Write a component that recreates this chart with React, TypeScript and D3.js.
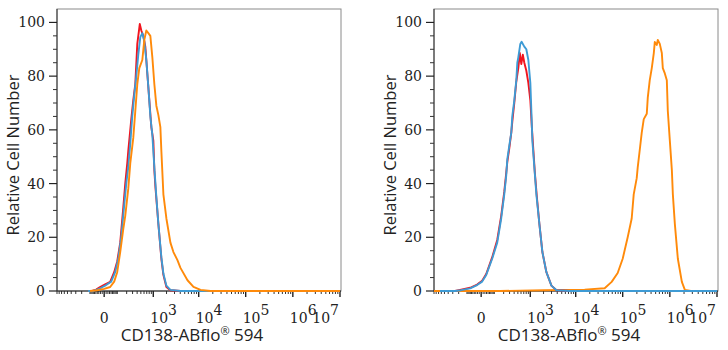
import React from 'react';
import * as d3 from 'd3';

// ---------- data ----------
const yTickValues = [0, 20, 40, 60, 80, 100];
const xMajorValues = [0, 1e3, 1e4, 1e5, 1e6, 1e7];
const xMajorExp = ['', '3', '4', '5', '6', '7'];
const xTitle = 'CD138-ABflo';
const yTitle = 'Relative Cell Number';

const leftRedX = [-119, -80, -48, -22, 5, 34, 63, 89, 119, 154, 180, 209, 224, 276, 314, 357, 404, 469, 513, 576, 646, 722, 807, 900, 1003, 1059, 1117, 1310, 1533, 1701, 1986, 2438, 4043, 1e7];
const leftRedY = [0, 0, 0.5, 1.5, 2.5, 3.4, 7, 11, 18, 31, 40, 47.6, 52, 64, 71, 77, 92, 99.4, 97, 95, 91, 81, 71, 61, 56, 45, 39, 25, 12, 6, 1.5, 0.3, 0, 0];

const leftBlueX = [-119, -71, -41, -16, 10, 41, 71, 99, 130, 166, 194, 224, 258, 294, 335, 380, 429, 484, 544, 610, 683, 764, 853, 951, 1059, 1178, 1310, 1533, 1701, 1986, 2438, 4043, 1e7];
const leftBlueY = [0, 0, 0.5, 1.2, 2.2, 3.5, 7, 12, 20, 32, 40, 46, 55, 65, 73, 80, 88, 94.5, 96, 93, 86, 76, 65, 58, 46, 35, 25, 12.5, 6.5, 2, 0.4, 0, 0];

const leftOrangeX = [-99, -41, 0, 34, 63, 89, 119, 154, 180, 224, 258, 314, 357, 404, 456, 544, 610, 683, 764, 853, 951, 1059, 1178, 1310, 1455, 1533, 1615, 1701, 1986, 2438, 2840, 3477, 4043, 5740, 7730, 10940, 17920, 1e7];
const leftOrangeY = [0, 0.3, 0.8, 1.5, 3.5, 7, 14.5, 23, 28, 38, 47.6, 57, 67, 77, 83, 86, 93.5, 97, 96, 95, 87, 77, 69, 65.5, 61, 52, 44, 36, 27, 18, 14.5, 11.5, 8.6, 4, 1.5, 0.4, 0, 0];

const rightBlueX = [-646, -258, -166, -71, -22, 5, 28, 71, 119, 166, 209, 240, 258, 294, 335, 357, 404, 456, 484, 513, 576, 620, 722, 807, 900, 1003, 1059, 1117, 1242, 1380, 1615, 1886, 2316, 2988, 3845, 7730, 1e7];
const rightBlueY = [0, 0, 0.3, 1, 2.2, 3.5, 6, 12, 18, 27, 36, 43, 49, 54, 59, 65, 71, 78.5, 85, 87, 92, 92.8, 91, 90, 86, 77.5, 67, 56, 46, 36, 25, 14.5, 7, 2, 0.3, 0, 0];

const rightRedX = [-646, -258, -180, -71, -22, 5, 28, 71, 119, 166, 209, 240, 258, 294, 335, 357, 404, 456, 513, 560, 610, 664, 722, 807, 900, 1003, 1087, 1178, 1275, 1417, 1615, 1886, 2316, 2988, 3845, 7730, 1e7];
const rightRedY = [0, 0, 0.4, 1.2, 2.4, 3.8, 6.3, 12.5, 19, 28, 37, 44, 48, 53, 59, 63, 70, 78, 83, 88.6, 84.5, 88, 85, 82, 77.5, 71, 61, 52.5, 44, 35, 25, 14.5, 7, 2, 0.3, 0, 0];

const rightOrangeX = [-900, 154, 2090, 15530, 41400, 58300, 78300, 100000, 127700, 155300, 171400, 198500, 208400, 230100, 253700, 279900, 324300, 340500, 375200, 414000, 457100, 479700, 528500, 555400, 612400, 676100, 709600, 783400, 863000, 906000, 1000000, 1104000, 1159000, 1277000, 1479000, 1799000, 2084000, 2798000, 1e7];
const rightOrangeY = [0, 0, 0.3, 0.5, 1, 3.4, 6.7, 12, 20, 27, 36, 42, 46, 52.5, 59, 64, 66, 72, 78.5, 83, 88.6, 92.7, 91.6, 93.5, 92, 88.6, 83, 81, 78.5, 67, 56, 45, 36, 25, 12, 3.4, 0.4, 0, 0];

const RED = '#f0141e';
const BLUE = '#3e9bd5';
const ORANGE = '#ff8a0a';

// ---------- layout ----------
const TOP = 9;
const BOTTOM = 291;
const W = 284;

type Series = { xs: number[]; ys: number[]; color: string };

function minorTicks(): number[] {
  const out: number[] = [];
  for (let m = 1; m <= 9; m++) {
    out.push(-m * 100, -m * 10, m * 10);
    if (m > 1) out.push(m * 100);
  }
  for (let e = 3; e <= 6; e++) {
    for (let m = 2; m <= 9; m++) out.push(m * Math.pow(10, e));
  }
  return out;
}

function Panel({ x0, series }: { x0: number; series: Series[] }) {
  const x = d3.scaleSymlog().constant(100).domain([-900, 1e7]).range([x0, x0 + W - 1]);
  const y = d3.scaleLinear().domain([0, 105]).range([BOTTOM, TOP]);
  const line = d3.line<[number, number]>().x(d => x(d[0])).y(d => y(d[1]));
  const yMinor = d3.range(0, 105, 5).filter(v => v % 20 !== 0);
  const tickFont = "'DejaVu Serif', serif";
  const titleFont = "'Open Sans', 'Noto Sans', sans-serif";
  return (
    <g>
      <rect x={x0} y={TOP} width={W} height={BOTTOM - TOP} fill="none" stroke="#8a8a8a" strokeWidth={1} />
      <line x1={x0} x2={x0} y1={TOP} y2={BOTTOM} stroke="#333" strokeWidth={1} />
      {yTickValues.map(v => (
        <g key={'yt' + v}>
          <line x1={x0 - 8} x2={x0} y1={y(v)} y2={y(v)} stroke="#222" strokeWidth={1.2} />
          <text x={x0 - 12} y={y(v)} dy="0.36em" textAnchor="end" fontFamily={tickFont} fontSize={14} fill="#222">{v}</text>
        </g>
      ))}
      {yMinor.map(v => (
        <line key={'ym' + v} x1={x0 - 4} x2={x0} y1={y(v)} y2={y(v)} stroke="#333" strokeWidth={1} />
      ))}
      {minorTicks().map(v => (
        <line key={'xm' + v} x1={x(v)} x2={x(v)} y1={BOTTOM} y2={BOTTOM + 3} stroke="#333" strokeWidth={1} />
      ))}
      {xMajorValues.map((v, i) => {
        const tx = x(v);
        const last = i === xMajorValues.length - 1;
        return (
          <g key={'xt' + v}>
            <line x1={tx} x2={tx} y1={BOTTOM} y2={BOTTOM + 6} stroke="#222" strokeWidth={1.4} />
            {v === 0 ? (
              <text x={tx} y={323} textAnchor="middle" fontFamily={tickFont} fontSize={14} fill="#222">0</text>
            ) : (
              <text x={last ? tx - 1 : tx - 3} y={323} textAnchor={last ? 'end' : 'start'} fontFamily={tickFont} fontSize={14} fill="#222">
                10<tspan dy={-8} fontSize={14}>{xMajorExp[i]}</tspan>
              </text>
            )}
          </g>
        );
      })}
      <line x1={x0} x2={x0 + W} y1={BOTTOM} y2={BOTTOM} stroke="#222" strokeWidth={1.2} />
      {series.map((s, i) => (
        <path key={'s' + i} d={line(s.xs.map((xv, j) => [xv, s.ys[j]] as [number, number])) || ''} fill="none" stroke={s.color} strokeWidth={1.9} strokeLinejoin="round" />
      ))}
      <text x={x0 + W / 2 - 7} y={341} textAnchor="middle" fontFamily={titleFont} fontSize={17} fill="#222">
        {xTitle}<tspan fontSize={11} dy={-6}>®</tspan><tspan dy={6}> 594</tspan>
      </text>
      <text transform={`translate(${x0 - 38},${(TOP + BOTTOM) / 2 + 5}) rotate(-90)`} textAnchor="middle" fontFamily={titleFont} fontSize={16.5} fill="#222">
        {yTitle}
      </text>
    </g>
  );
}

export default function App() {
  const left: Series[] = [
    { xs: leftRedX, ys: leftRedY, color: RED },
    { xs: leftBlueX, ys: leftBlueY, color: BLUE },
    { xs: leftOrangeX, ys: leftOrangeY, color: ORANGE },
  ];
  const right: Series[] = [
    { xs: rightOrangeX, ys: rightOrangeY, color: ORANGE },
    { xs: rightRedX, ys: rightRedY, color: RED },
    { xs: rightBlueX, ys: rightBlueY, color: BLUE },
  ];
  return (
    <svg width={728} height={350} style={{ position: 'absolute', left: 0, top: 0, background: '#fff' }}>
      <rect x={0} y={0} width={728} height={350} fill="#fff" />
      <Panel x0={57} series={left} />
      <Panel x0={434} series={right} />
    </svg>
  );
}
